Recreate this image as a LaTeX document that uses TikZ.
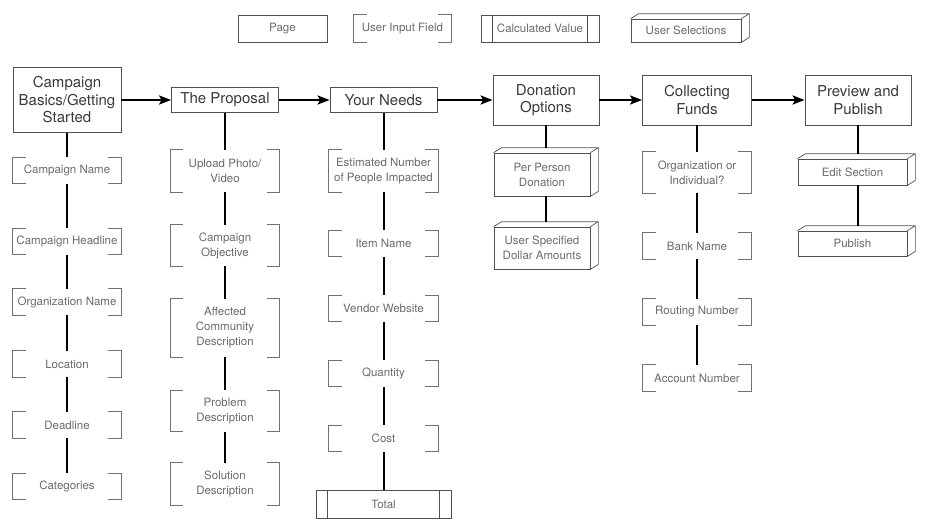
\documentclass[tikz,border=0pt]{standalone}
\usepackage{fontspec}
\setmainfont{TeX Gyre Heros}
\usetikzlibrary{arrows.meta,calc}
\definecolor{frameGray}{HTML}{505050}
\definecolor{fieldGray}{HTML}{707070}
\definecolor{titleText}{HTML}{3A3A3A}
\definecolor{fieldText}{HTML}{6A6A6A}

\newcommand{\titlefont}{\fontsize{15}{17.5}\selectfont}
\newcommand{\fieldfont}{\fontsize{11.5}{15}\selectfont}

\tikzset{
  page/.style={draw=frameGray, line width=0.8pt, fill=white, text=titleText, font=\titlefont, align=center, inner sep=0pt},
  field/.style={text=fieldText, font=\fieldfont, align=center, inner sep=0pt, minimum width=108pt, minimum height=26pt,
    append after command={\pgfextra{
      \draw[fieldGray, line width=0.8pt]
        ([xshift=13pt]\tikzlastnode.north west) -- (\tikzlastnode.north west) -- (\tikzlastnode.south west) -- ([xshift=13pt]\tikzlastnode.south west)
        ([xshift=-13pt]\tikzlastnode.north east) -- (\tikzlastnode.north east) -- (\tikzlastnode.south east) -- ([xshift=-13pt]\tikzlastnode.south east);
    }}},
  calcval/.style={draw=frameGray, line width=0.8pt, text=fieldText, font=\fieldfont, align=center, inner sep=0pt,
    append after command={\pgfextra{
      \draw[frameGray, line width=0.8pt]
        ([xshift=12pt]\tikzlastnode.north west) -- ([xshift=12pt]\tikzlastnode.south west)
        ([xshift=-12pt]\tikzlastnode.north east) -- ([xshift=-12pt]\tikzlastnode.south east);
    }}},
  choice/.style={draw=frameGray, line width=0.7pt, text=fieldText, font=\fieldfont, align=center, inner sep=0pt,
    append after command={\pgfextra{
      \draw[frameGray, line width=0.7pt, line join=round]
        (\tikzlastnode.north west) -- ++(8,-5) -- ([shift={(8,-5)}]\tikzlastnode.north east)
        -- ([shift={(8,-5)}]\tikzlastnode.south east) -- (\tikzlastnode.south east)
        (\tikzlastnode.north east) -- ++(8,-5);
    }}},
  link/.style={line width=2pt, black},
  flow/.style={line width=2.2pt, black, -{Stealth[length=12pt,width=9pt,inset=2.5pt]}},
}

\begin{document}
\begin{tikzpicture}[x=1pt, y=-1pt]
  \useasboundingbox (0,0) rectangle (932,530);

  % legend
  \node[page, font=\fieldfont, text=fieldText, minimum width=89pt, minimum height=27pt] (lgPage) at (282.5,28.5) {Page};
  \node[field, minimum width=97pt, minimum height=27pt] (lgField) at (402.5,28.5) {User Input Field};
  \node[calcval, minimum width=118pt, minimum height=27pt] (lgCalc) at (540,28.5) {Calculated Value};
  \node[choice, minimum width=110pt, minimum height=23pt] (lgChoice) at (686,30.5) {User Selections};

  % pages
  \node[page, minimum width=108pt, minimum height=65pt] (basics) at (67,100) {Campaign\\Basics/Getting\\Started};
  \node[page, minimum width=107pt, minimum height=25pt] (proposal) at (225,100) {The Proposal};
  \node[page, minimum width=107pt, minimum height=25pt] (needs) at (383.5,100) {Your Needs};
  \node[page, minimum width=106pt, minimum height=50pt] (donation) at (546,100) {Donation\\Options};
  \node[page, minimum width=109pt, minimum height=50pt] (funds) at (697,100) {Collecting\\Funds};
  \node[page, minimum width=106pt, minimum height=50pt] (publish) at (858,100) {Preview and\\Publish};

  \draw[flow] (basics) -- (proposal);
  \draw[flow] (proposal) -- (needs);
  \draw[flow] (needs) -- (donation);
  \draw[flow] (donation) -- (funds);
  \draw[flow] (funds) -- (publish);

  % campaign basics
  \node[field] (campName) at (67,170.5) {Campaign Name};
  \node[field] (headline) at (67,241.5) {Campaign Headline};
  \node[field] (orgName) at (67,302) {Organization Name};
  \node[field] (location) at (67,364) {Location};
  \node[field] (deadline) at (67,425) {Deadline};
  \node[field] (categories) at (67,486.5) {Categories};
  \draw[link] (basics) -- (campName) -- (headline) -- (orgName) -- (location) -- (deadline) -- (categories);

  % the proposal
  \node[field, minimum width=109pt, minimum height=42pt] (upload) at (225,171) {Upload Photo/\\Video};
  \node[field, minimum width=109pt, minimum height=41pt] (objective) at (225,245.5) {Campaign\\Objective};
  \node[field, minimum width=109pt, minimum height=58pt] (community) at (225,328) {Affected\\Community\\Description};
  \node[field, minimum width=109pt, minimum height=41pt] (problem) at (225,411) {Problem\\Description};
  \node[field, minimum width=109pt, minimum height=42pt] (solution) at (225,484) {Solution\\Description};
  \draw[link] (proposal) -- (upload) -- (objective) -- (community) -- (problem) -- (solution);

  % your needs
  \node[field, minimum width=109pt, minimum height=42pt] (impacted) at (383.5,171) {Estimated Number\\of People Impacted};
  \node[field, minimum width=109pt] (itemName) at (383.5,243.5) {Item Name};
  \node[field, minimum width=109pt] (vendor) at (383.5,308.5) {Vendor Website};
  \node[field, minimum width=109pt] (quantity) at (383.5,373.5) {Quantity};
  \node[field, minimum width=109pt] (cost) at (383.5,438.5) {Cost};
  \node[calcval, minimum width=135pt, minimum height=28pt] (total) at (383.5,504) {Total};
  \draw[link] (needs) -- (impacted) -- (itemName) -- (vendor) -- (quantity) -- (cost) -- (total);

  % donation options
  \node[choice, minimum width=96pt, minimum height=43pt] (perPerson) at (542,174.5) {Per Person\\Donation};
  \node[choice, minimum width=96pt, minimum height=42pt] (dollarAmt) at (542,248) {User Specified\\Dollar Amounts};
  \draw[link] (donation) -- ($(donation |- perPerson.north)+(0,-5)$);
  \draw[link] (perPerson.south -| donation) -- ($(donation |- dollarAmt.north)+(0,-5)$);

  % collecting funds
  \node[field, minimum height=41pt] (orgType) at (697,172.5) {Organization or\\Individual?};
  \node[field] (bank) at (697,246) {Bank Name};
  \node[field] (routing) at (697,312) {Routing Number};
  \node[field] (account) at (697,378) {Account Number};
  \draw[link] (funds) -- (orgType) -- (bank) -- (routing) -- (account);

  % preview and publish
  \node[choice, minimum width=109pt, minimum height=26pt] (editSec) at (852.5,172) {Edit Section};
  \node[choice, minimum width=109pt, minimum height=25pt] (publishBtn) at (852.5,243.5) {Publish};
  \draw[link] (publish) -- ($(publish |- editSec.north)+(0,-5)$);
  \draw[link] (editSec.south -| publish) -- ($(publish |- publishBtn.north)+(0,-5)$);
\end{tikzpicture}
\end{document}
